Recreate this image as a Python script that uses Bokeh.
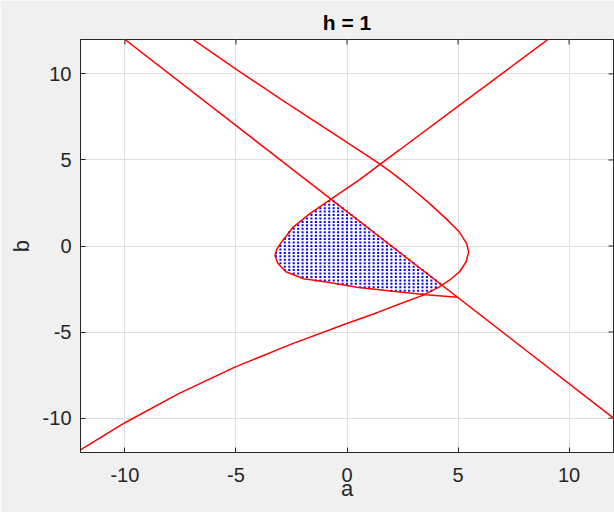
import numpy as np
from bokeh.plotting import figure
from bokeh.models import FixedTicker, Range1d
from bokeh.embed import file_html
from bokeh.resources import INLINE

# ---- data ----
title_text = "h = 1"
x_label = "a"
y_label = "b"
tick_values = [-10, -5, 0, 5, 10]
tick_labels = ["-10", "-5", "0", "5", "10"]
axis_min, axis_max = -12, 12

# straight boundary (falling line)
line_a = [-10.0, 12.0]
line_b = [12.0, -10.0]

# sideways, parabola-like boundary
curve_p_a = [-6.93, -5.00, -3.00, -1.00, 0.00, 1.08, 1.50, 2.00, 2.50, 2.96, 3.71, 4.46, 5.06, 5.39, 5.48,
             5.36, 5.06, 4.61, 4.16, 3.41, 2.37, 1.38, -0.04, -2.51, -5.05, -7.60, -10.00, -12.00]
curve_p_b = [12.00, 10.28, 8.55, 6.86, 6.02, 5.10, 4.74, 4.28, 3.78, 3.30, 2.48, 1.59, 0.81, 0.14, -0.35,
             -0.93, -1.51, -1.99, -2.38, -2.87, -3.37, -3.86, -4.52, -5.70, -7.04, -8.59, -10.27, -11.85]

# loop-shaped boundary ending on the falling line
curve_q_a = [4.98, 3.56, 2.06, 0.45, -0.93, -1.95, -2.75, -3.12, -3.24, -3.15, -2.92, -2.42, -1.67,
             -0.72, 0.57, 1.50, 2.36, 4.98, 7.15, 9.13]
curve_q_b = [-2.98, -2.83, -2.63, -2.40, -2.09, -1.90, -1.50, -1.00, -0.55, -0.15, 0.28, 1.10, 1.88,
             2.72, 3.86, 4.76, 5.58, 8.10, 10.18, 12.08]

# outline of the dotted (stable) region
region_a = [-0.72, -1.67, -2.42, -2.92, -3.15, -3.24, -3.12, -2.75, -1.95, -0.93, 0.45, 2.06, 3.50, 4.16, 4.28]
region_b = [2.72, 1.88, 1.10, 0.28, -0.15, -0.55, -1.00, -1.50, -1.90, -2.09, -2.40, -2.63, -2.82, -2.38, -2.28]
grid_step = 0.2  # spacing of the sample grid shown as dots


def inside(px, py, vx, vy):
    vx = np.asarray(vx); vy = np.asarray(vy)
    res = np.zeros(px.shape, dtype=bool)
    n = len(vx)
    j = n - 1
    for i in range(n):
        xi, yi, xj, yj = vx[i], vy[i], vx[j], vy[j]
        cond = ((yi > py) != (yj > py)) & (px < (xj - xi) * (py - yi) / (yj - yi + 1e-12) + xi)
        res ^= cond
        j = i
    return res


ga = np.round(np.arange(axis_min, axis_max + 1e-9, grid_step), 6)
gb = np.round(np.arange(axis_min, axis_max + 1e-9, grid_step), 6)
GA, GB = np.meshgrid(ga, gb)
GA = GA.ravel(); GB = GB.ravel()
mask = inside(GA, GB, region_a, region_b)
dots_a = GA[mask]
dots_b = GB[mask]

FONT = "Liberation Sans"
AX_COL = "#262626"

p = figure(width=614, height=513, x_range=Range1d(axis_min, axis_max),
           y_range=Range1d(axis_min, axis_max), output_backend="svg",
           toolbar_location=None, title=title_text,
           min_border_left=80, min_border_right=1, min_border_top=39, min_border_bottom=61)
p.background_fill_color = "white"
p.border_fill_color = "#f0f0f0"
p.outline_line_color = AX_COL
p.outline_line_width = 1

p.title.align = "center"
p.title.text_font = FONT
p.title.text_font_size = "21px"
p.title.text_font_style = "bold"
p.title.text_color = "black"
p.title.standoff = 11

labels_map = dict(zip(tick_values, tick_labels))
for ax in (p.xaxis[0], p.yaxis[0]):
    ax.ticker = FixedTicker(ticks=tick_values)
    ax.major_label_overrides = labels_map
    ax.major_tick_in = 5
    ax.major_tick_out = 0
    ax.minor_tick_in = 0
    ax.minor_tick_out = 0
    ax.axis_line_color = AX_COL
    ax.major_tick_line_color = AX_COL
    ax.major_label_text_font = FONT
    ax.major_label_text_font_size = "20px"
    ax.major_label_text_color = AX_COL
    ax.axis_label_text_font = FONT
    ax.axis_label_text_font_size = "22px"
    ax.axis_label_text_font_style = "normal"
    ax.axis_label_text_color = AX_COL
p.xaxis[0].axis_label = x_label
p.yaxis[0].axis_label = y_label
p.xaxis[0].major_label_standoff = 15
p.yaxis[0].major_label_standoff = 9
p.xaxis[0].axis_label_standoff = -9
p.yaxis[0].axis_label_standoff = 6

p.xgrid.ticker = FixedTicker(ticks=tick_values)
p.ygrid.ticker = FixedTicker(ticks=tick_values)
p.xgrid.grid_line_color = "#dedede"
p.ygrid.grid_line_color = "#dedede"

# mirrored inward ticks on the top and right edges (half of each dash is clipped by the frame)
n_t = len(tick_values)
p.scatter(tick_values, [axis_max] * n_t, marker="dash", angle=np.pi / 2, size=10,
          line_color=AX_COL, line_width=1)
p.scatter([axis_max] * n_t, tick_values, marker="dash", size=10,
          line_color=AX_COL, line_width=1)

p.scatter(dots_a, dots_b, marker="square", size=2, fill_color="#0000ff", line_color=None)

p.line(line_a, line_b, line_color="#ff0000", line_width=1.5)
p.line(curve_p_a, curve_p_b, line_color="#ff0000", line_width=1.5)
p.line(curve_q_a, curve_q_b, line_color="#ff0000", line_width=1.5)

open("out.html", "w").write(file_html(p, INLINE))
